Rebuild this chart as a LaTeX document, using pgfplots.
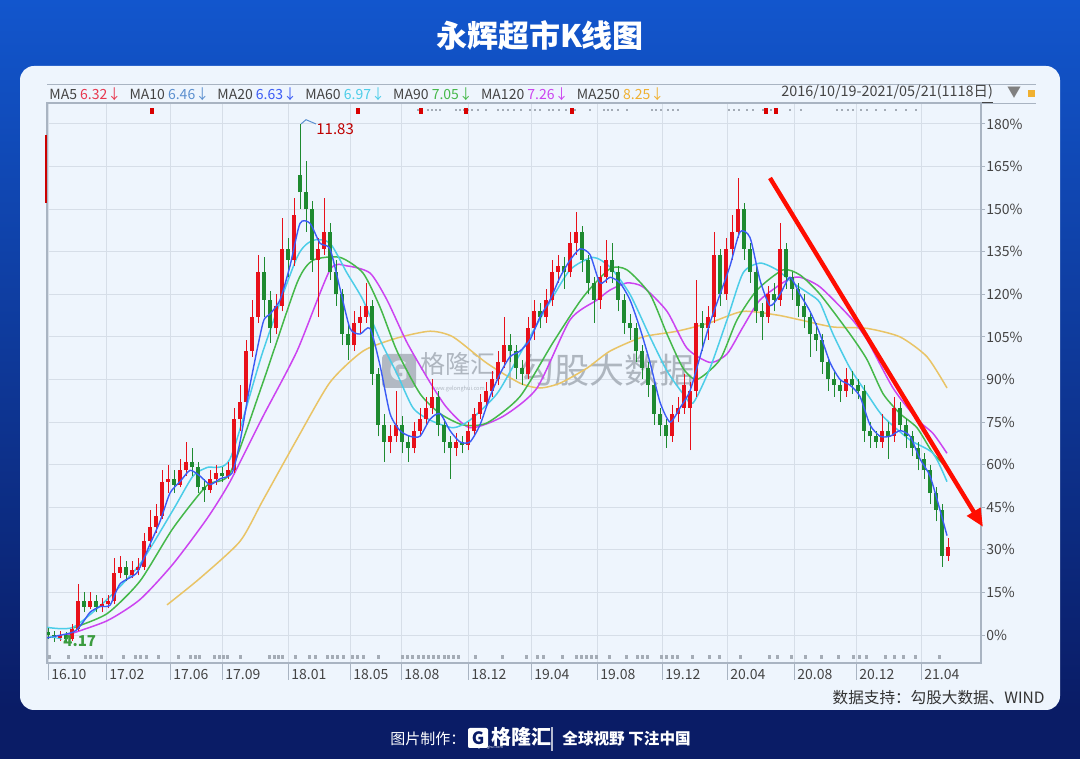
\documentclass[border=0pt]{standalone}
\usepackage{fontspec}
\setmainfont{Noto Sans CJK SC}
\usepackage{pgfplots}
\pgfplotsset{compat=1.18}
\usepackage{pgfplotstable}
\usetikzlibrary{arrows.meta}
\definecolor{bgtop}{HTML}{1256CD}
\definecolor{bgbot}{HTML}{0A1C66}
\definecolor{panel}{HTML}{EEF5FD}
\definecolor{gridc}{HTML}{D6DEE8}
\definecolor{axgray}{HTML}{A9B4C2}
\definecolor{labgray}{HTML}{444444}
\definecolor{upred}{HTML}{E8101A}
\definecolor{dngreen}{HTML}{1E8A30}
\definecolor{ma5}{HTML}{E8384F}
\definecolor{ma10}{HTML}{5B8FCF}
\definecolor{ma20}{HTML}{3B5BF5}
\definecolor{ma60}{HTML}{4CCDE8}
\definecolor{ma90}{HTML}{45B84A}
\definecolor{ma120}{HTML}{CC44F0}
\definecolor{ma250}{HTML}{E9C466}
\definecolor{goldtxt}{HTML}{F0B030}
\definecolor{wm}{HTML}{A3ABB5}
\definecolor{navy}{HTML}{0A1C66}
\definecolor{mk}{HTML}{A4ACB6}

\pgfplotstableread{
x l h b t
60 -2 1.5 -1 0
72 -2 4 -1.5 2
78 1.5 18 2 12
90 9 15 10 12
102 8 13 10 11
108 9.5 14 11 12
114 11 27 12 22
120 20 28 22 24
132 20 26 21 23
138 21 27 23 24
144 23 36 24 33
150 31 44 33 38
156 36 46 38 42
162 41 58 42 54
168 50 60 54 55
180 52 62 53 58
186 56 68 58 61
210 50 58 51 55
216 53 60 55 57
228 55 61 56 58
234 57 80 58 76
240 72 88 76 82
246 80 104 82 100
252 98 118 100 112
258 110 134 112 128
276 106 120 108 116
282 114 147 116 136
294 130 154 132 148
318 112 140 132 136
324 134 154 136 142
354 100 114 102 110
360 106 116 110 112
366 110 124 112 116
390 64 74 68 70
396 68 86 70 74
414 64 75 66 72
420 70 80 72 76
426 74 84 76 80
432 78 90 80 84
456 63 71 66 68
468 65 75 67 72
474 70 80 72 78
480 76 85 78 82
486 80 89 82 86
492 84 93 86 90
498 88 100 90 96
504 94 112 96 102
528 90 112 92 108
534 104 118 108 114
546 110 122 112 118
552 116 132 118 128
558 124 134 128 130
570 126 142 128 138
576 134 149 138 142
600 115 130 118 126
606 124 139 126 132
672 68 81 70 78
678 75 84 78 80
684 78 92 80 88
690 65 89 80 86
696 84 125 86 110
708 104 116 108 112
714 110 142 112 134
726 118 140 120 136
732 132 148 136 142
738 140 161 142 150
768 110 123 112 120
780 116 145 118 136
846 84 94 86 90
882 66 78 68 72
894 68 84 70 80
948 26 34 28 31
}\uptab

\pgfplotstableread{
x l h b t
48 -1.5 2.5 0 1
54 -2.5 1.5 -1 0
66 -2.5 1 -1.5 0
84 8 15 10 12
96 8 14 10 12
126 19 26 21 24
174 50 58 53 55
192 56 66 59 61
198 50 61 52 59
204 47 55 51 52
222 54 59 56 57
264 112 133 118 128
270 103 121 108 118
288 126 140 132 136
300 150 180 156 162
306 142 167 150 156
312 128 153 132 150
330 125 145 128 142
336 116 132 120 128
342 102 122 106 120
348 97 110 102 106
372 88 118 92 116
378 70 94 74 92
384 61 78 68 74
402 64 77 68 74
408 61 70 66 68
438 70 86 74 84
444 64 76 68 74
450 55 70 66 68
462 64 70 67 68
510 96 106 100 102
516 90 102 94 100
522 88 97 92 94
540 108 117 112 114
564 122 133 128 130
582 128 144 132 142
588 120 134 124 132
594 110 126 118 124
612 124 138 128 132
618 114 130 118 128
624 106 120 110 118
630 104 113 108 110
636 96 110 100 108
642 90 102 94 100
648 84 96 88 94
654 74 90 78 88
660 70 80 74 78
666 66 76 70 74
702 100 114 108 110
720 116 136 120 134
744 132 152 136 150
750 124 138 128 136
756 110 130 114 128
762 104 117 112 114
774 114 124 118 120
786 122 138 126 136
792 118 128 122 126
798 112 124 116 122
804 108 120 112 116
810 98 114 106 112
816 100 110 104 106
822 92 106 96 104
828 86 98 90 96
834 84 93 88 90
840 82 90 86 88
852 85 93 88 90
858 83 90 86 88
864 68 88 72 86
870 66 75 70 72
876 66 72 68 70
888 62 75 70 72
900 72 82 74 80
906 66 76 70 74
912 63 72 66 70
918 58 68 62 66
924 55 64 58 62
930 46 60 50 58
936 40 52 44 50
942 24 46 28 44
}\dntab

\begin{document}
\begin{tikzpicture}[x=0.5pt,y=0.5pt]
% background
\fill[navy] (0,0) rectangle (1080,60);
\shade[top color=bgtop, bottom color=bgbot] (0,50) rectangle (1080,759);
\node[text=white, font=\fontsize{15.5}{18}\selectfont\bfseries] at (540,723) {永辉超市K线图};
% panel
\fill[panel, rounded corners=7pt] (20,49) rectangle (1060,693);
% legend lines
\draw[axgray, line width=0.5pt] (47,674) -- (1036,674);
\draw[axgray, line width=0.5pt] (47,655) -- (1036,655);
\node[anchor=west, inner sep=0pt, font=\fontsize{7}{9}\selectfont, text=labgray] at (49,665)
 {MA5 \textcolor{ma5}{6.32↓}\hspace{2.5pt} MA10 \textcolor{ma10}{6.46↓}\hspace{2.5pt} MA20 \textcolor{ma20}{6.63↓}\hspace{2.5pt} MA60 \textcolor{ma60}{6.97↓}\hspace{2.5pt} MA90 \textcolor{ma90}{7.05↓}\hspace{2.5pt} MA120 \textcolor{ma120}{7.26↓}\hspace{2.5pt} MA250 \textcolor{goldtxt}{8.25↓}};
\node[anchor=west, inner sep=0pt, font=\fontsize{7.2}{9}\selectfont, text=labgray] at (781,665) {\underline{2016/10/19-2021/05/21(1118日)}};
\node[inner sep=0pt, font=\fontsize{7}{8}\selectfont, text=gray] at (1014,666) {▼};
\fill[goldtxt] (1028,662) rectangle (1035,669);

\begin{axis}[
  at={(23.5pt,48pt)}, anchor=south west,
  scale only axis, width=467pt, height=280pt,
  xmin=47, xmax=981, ymin=-9.86, ymax=187.39,
  clip mode=individual,
  axis line style={draw=axgray, line width=0.6pt},
  grid=major, grid style={draw=gridc, line width=0.5pt},
  xtick={48,106,170,222,288,350,401,468,531,597,662,727,794,856,921},
  xticklabels={16.10,17.02,17.06,17.09,18.01,18.05,18.08,18.12,19.04,19.08,19.12,20.04,20.08,20.12,21.04},
  ytick={0,15,...,180},
  yticklabels={0\%,15\%,30\%,45\%,60\%,75\%,90\%,105\%,120\%,135\%,150\%,165\%,180\%},
  xtick pos=left, ytick pos=right, yticklabel pos=right,
  tick align=outside, major tick length=2pt,
  tick style={draw=axgray, line width=0.5pt},
  ticklabel style={font=\fontsize{7}{8}\selectfont, text=labgray},
  xticklabel style={anchor=north west, inner sep=0pt, xshift=1.5pt, yshift=-1pt},
  yticklabel style={anchor=west, inner sep=0pt, xshift=0.5pt},
]
% watermark
\node[fill=wm, text=panel, font=\bfseries\fontsize{13}{13}\selectfont, minimum size=17pt, inner sep=0pt, rounded corners=2pt, opacity=0.8] at (axis cs:399,93) {G};
\node[text=wm, opacity=0.85, font=\fontsize{12.5}{13}\selectfont] at (axis cs:458,95.5) {格隆汇};
\node[text=wm, opacity=0.85, font=\fontsize{2.8}{3}\selectfont] at (axis cs:458,86.5) {www.gelonghui.com};
\draw[wm, opacity=0.8, line width=0.8pt] (axis cs:510,100) -- (axis cs:510,87);
\node[text=wm, opacity=0.85, font=\fontsize{17.5}{18}\selectfont] at (axis cs:607,93.3) {勾股大数据};
% separators below x axis
\pgfplotsinvokeforeach{48,106,170,222,288,350,401,468,531,597,662,727,794,856,921}{
  \draw[axgray, line width=0.5pt] (axis cs:#1,-9.86) -- ++(0pt,-8.5pt);
}
% long MAs
\addplot[ma250, line width=0.75pt, smooth, tension=0.4] coordinates {
(167,10.6) (200,20) (240,33) (263,47.5) (297,69) (330,89) (363,100) (397,104.6) (430,107) (453,105) (487,95.7) (520,88.7) (540,87) (560,88.7) (587,94) (610,100) (643,105) (677,107) (710,110) (743,114) (777,112.7) (800,111) (833,108.5) (867,108) (900,105) (927,98) (947,87)};
\addplot[ma120, line width=0.75pt, smooth, tension=0.4] coordinates {
(67,0) (107,5) (140,12.5) (173,25) (207,41) (230,54) (263,77) (297,100) (330,128.6) (347,130) (370,127.5) (387,118) (407,103) (430,89) (447,80) (470,73) (503,77) (537,87) (570,111) (597,118) (610,121.5) (627,124) (643,122.6) (667,114) (687,101) (710,96) (727,99) (743,108.5) (760,118) (787,125) (800,126) (820,122.6) (850,112) (867,104) (893,87) (917,76) (933,71) (947,64)};
\addplot[ma90, line width=0.75pt, smooth, tension=0.4] coordinates {
(73,2.5) (107,7.5) (140,19) (173,37.6) (207,52.7) (230,57) (263,89) (297,124) (313,132) (340,133) (363,127.5) (380,115.5) (397,100) (420,85) (440,78) (463,74) (487,74.7) (520,84) (553,103) (583,119) (610,129) (627,128.6) (650,120) (667,106) (683,94) (697,90) (720,97) (737,111) (757,121.5) (783,128.6) (800,126.8) (820,120) (850,106) (867,97) (883,85) (900,78) (917,73) (933,64) (947,59)};
\addplot[ma60, line width=0.75pt, smooth, tension=0.4] coordinates {
(47,2.7) (73,2.7) (107,12.5) (140,25) (173,44) (193,56) (207,59) (230,62) (263,100) (297,133) (313,139) (330,138) (347,127.5) (363,118) (380,104) (397,92) (413,80) (430,75.7) (453,73) (470,75.7) (497,85) (520,99) (547,115.5) (570,128.6) (593,133) (610,129.6) (630,120) (650,105) (667,93) (683,85) (693,81.7) (710,94) (727,111) (743,127.5) (760,131) (777,128.6) (793,124) (810,120) (820,117) (833,106) (850,94) (867,85) (883,77) (910,68.7) (933,64) (947,54)};
% candles: wicks and bodies
\addplot[draw=none, mark=none, forget plot,
  error bars/.cd, y dir=plus, y explicit, error mark=none,
  error bar style={draw=upred, line width=0.5pt}]
  table[x=x, y=l, y error expr=\thisrow{h}-\thisrow{l}] {\uptab};
\addplot[draw=none, mark=none, forget plot,
  error bars/.cd, y dir=plus, y explicit, error mark=none,
  error bar style={draw=upred, line width=1.9pt}]
  table[x=x, y=b, y error expr=\thisrow{t}-\thisrow{b}] {\uptab};
\addplot[draw=none, mark=none, forget plot,
  error bars/.cd, y dir=plus, y explicit, error mark=none,
  error bar style={draw=dngreen, line width=0.5pt}]
  table[x=x, y=l, y error expr=\thisrow{h}-\thisrow{l}] {\dntab};
\addplot[draw=none, mark=none, forget plot,
  error bars/.cd, y dir=plus, y explicit, error mark=none,
  error bar style={draw=dngreen, line width=1.9pt}]
  table[x=x, y=b, y error expr=\thisrow{t}-\thisrow{b}] {\dntab};
% MA20
\addplot[ma20, line width=0.7pt, smooth, tension=0.4] coordinates {
(47,-1) (73,1) (82,4) (90,8) (100,10) (110,10.5) (120,18) (137,22) (150,32) (160,40) (170,50) (180,54) (190,58) (200,56) (210,53) (220,55) (232,57) (240,68) (250,88) (263,110) (270,113) (280,118) (290,130) (300,145) (310,145) (320,138) (330,136) (340,122) (350,108) (360,106) (370,108) (380,95) (390,78) (400,72) (410,70) (420,70) (430,76) (440,78) (450,72) (460,68) (470,68) (480,74) (490,84) (500,92) (510,98) (520,100) (530,104) (540,112) (550,118) (560,126) (570,132) (580,136) (590,134) (600,124) (610,126) (620,124) (630,118) (640,108) (650,96) (660,82) (670,75) (680,80) (690,86) (700,98) (710,110) (720,120) (730,130) (740,142) (750,140) (760,125) (770,116) (780,120) (790,126) (800,120) (810,114) (820,106) (830,96) (840,90) (850,88) (860,84) (870,74) (880,70) (890,70) (900,72) (910,70) (920,62) (930,56) (940,44) (947,35)};
% annotations
\draw[ma10, line width=0.5pt] (axis cs:301,180) -- (axis cs:306,181.5) -- (axis cs:316,180);
\node[anchor=west, inner sep=0pt, text=red!75!black, font=\fontsize{7.5}{9}\selectfont] at (axis cs:316,178) {11.83};
\draw[ma60, line width=0.5pt] (axis cs:50,-0.5) -- (axis cs:62,-1.5);
\node[anchor=west, inner sep=0pt, text=ma90!85!black, font=\bfseries\fontsize{7.5}{9}\selectfont] at (axis cs:63,-2) {4.17};
\end{axis}

% event marker rows (decoration)
\foreach \p in {49,68,85,90,96,101,123,135,140,146,158,178,190,195,199,214,219,223,227,240,269,274,278,282,295,309,315,327,332,337,343,352,357,363,378,402,407,412,418,423,428,433,438,444,448,453,458,475,502,526,537,543,562,576,581,586,591,596,609,626,637,642,647,661,666,672,677,692,709,719,740,769,777,791,805,821,838,853,859,866,885,894,903,915,939}
  {\fill[mk] (\p-1.5,100) rectangle (\p+1.5,103.5);}
\foreach \p in {418,422,428,432,436,440,456,460,464,468,472,478,486,498,503,508,514,521,530,535,540,549,553,559,566,575,590,604,608,612,618,627,652,656,661,668,673,678,729,734,739,747,753,763,771,777,790,801,837,842,848,853,861,867,876,885,896,906,916}
  {\fill[mk] (\p-1.2,647.5) rectangle (\p+1.2,650);}
\foreach \p in {152,358,421,466,572,766,776}
  {\fill[red!85!black] (\p-2,645) rectangle (\p+2,651);}
% red bar at left
\draw[red!80!black, line width=1.1pt] (46,624) -- (46,556);

% trend arrow
\draw[-{Triangle[length=9pt,width=7.5pt]}, line width=2.2pt, color=red!90!orange] (770,581) -- (983,232);

% source
\node[anchor=east, inner sep=0pt, text=black!80, font=\fontsize{7.8}{9}\selectfont] at (1045,61) {数据支持：勾股大数据、WIND};
% footer
\node[anchor=west, inner sep=0pt, text=white, font=\fontsize{7.5}{9}\selectfont] at (390,20) {图片制作：};
\node[fill=white, text=navy, font=\bfseries\fontsize{8.5}{9}\selectfont, minimum size=10pt, inner sep=0pt, rounded corners=1pt] at (478,21) {G};
\node[anchor=west, inner sep=0pt, text=white, font=\bfseries\fontsize{10}{11}\selectfont] at (491,22) {格隆汇};
\node[anchor=west, inner sep=0pt, text=white, font=\fontsize{1.8}{2}\selectfont] at (468,11) {www.gelonghui.com};
\draw[white!70!navy, line width=0.8pt] (552,32) -- (552,8);
\node[anchor=west, inner sep=0pt, text=white, font=\bfseries\fontsize{7.8}{9}\selectfont] at (562,20) {全球视野 下注中国};
\end{tikzpicture}
\end{document}
